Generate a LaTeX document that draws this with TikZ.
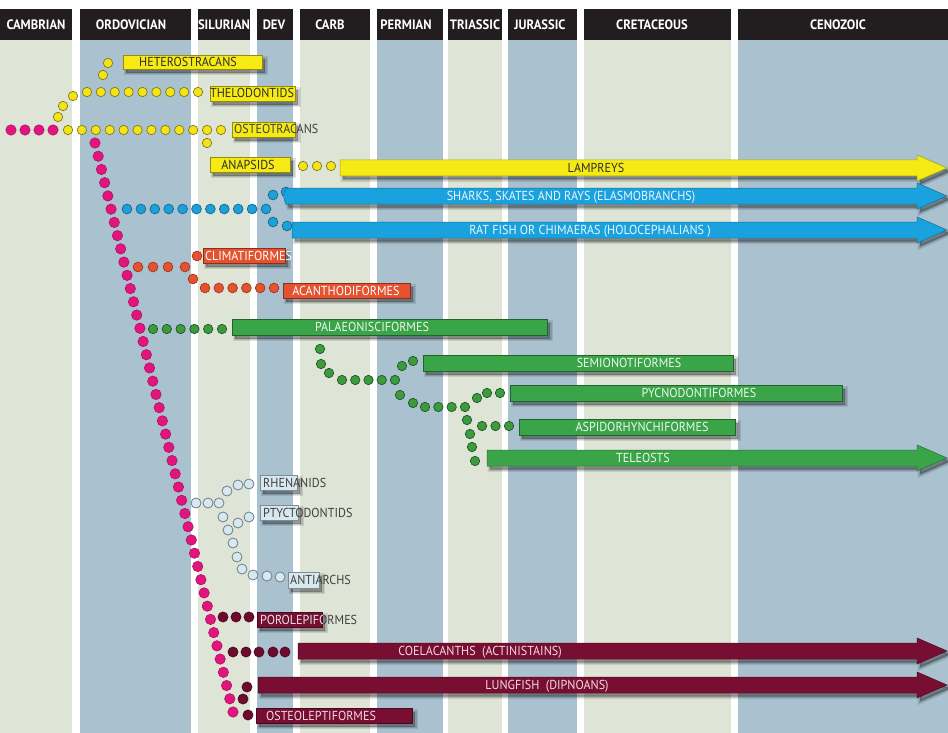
\documentclass[tikz,border=0pt]{standalone}
\usepackage{fontspec}
\setmainfont{PT Sans}
\newfontfamily\lblfont{PT Sans}[FakeStretch=0.93]

% period bands and header
\definecolor{hdrblack}{HTML}{221E1F}
\definecolor{bandgreen}{HTML}{DEE4D6}
\definecolor{bandblue}{HTML}{AAC1CF}
% lineages
\definecolor{yfill}{HTML}{F5EA14}
\definecolor{yline}{HTML}{77701A}
\definecolor{ydotfill}{HTML}{F3E417}
\definecolor{ydotline}{HTML}{857A1C}
\definecolor{pinkfill}{HTML}{E2157F}
\definecolor{pinkline}{HTML}{B0105F}
\definecolor{bluefill}{HTML}{1AA2DF}
\definecolor{blueline}{HTML}{157AA8}
\definecolor{bdotfill}{HTML}{1D9FD8}
\definecolor{bdotline}{HTML}{15688F}
\definecolor{orangefill}{HTML}{E5522F}
\definecolor{orangeline}{HTML}{A43A20}
\definecolor{greenfill}{HTML}{3AA548}
\definecolor{greenline}{HTML}{236B2C}
\definecolor{gdotfill}{HTML}{3D9A3F}
\definecolor{gdotline}{HTML}{1F5A22}
\definecolor{placofill}{HTML}{D8E8F1}
\definecolor{placoline}{HTML}{6D7C86}
\definecolor{maroonfill}{HTML}{780E31}
\definecolor{maroonline}{HTML}{4D0820}
\definecolor{mdotfill}{HTML}{6C0B2B}
\definecolor{darktext}{HTML}{2E2E2E}
\definecolor{greytext}{HTML}{404040}
\definecolor{palepink}{HTML}{F3DBE2}
\definecolor{paleblue}{HTML}{EAF5FB}
\definecolor{palegreen}{HTML}{EEF7EE}

\tikzset{
  band/.style={fill=#1, draw=none},
  periodbox/.style={fill=hdrblack, draw=none},
  periodtext/.style={text=white, font=\lblfont\bfseries\fontsize{13.6}{13.6}\selectfont,
    inner sep=0pt, text height=9.6pt, text depth=0pt},
  % soft shadow: a few stacked translucent layers, down and to the right
  softshadow/.style={
    preaction={fill=black, draw=black, opacity=0.10, line width=5pt,
      transform canvas={shift={(3pt,-3.5pt)}}},
    preaction={fill=black, draw=black, opacity=0.12, line width=2.5pt,
      transform canvas={shift={(3pt,-3.5pt)}}},
    preaction={fill=black, draw=none, opacity=0.14,
      transform canvas={shift={(3pt,-3.5pt)}}}},
  tagbox/.style={draw=#1!60!black, line width=0.6pt, fill=#1, softshadow,
    inner sep=0pt},
  tagtext/.style={font=\lblfont\fontsize{13}{13}\selectfont, inner sep=0pt,
    text height=9pt, text depth=0pt, text=#1},
  fatarrow/.style={fill=#1, draw=#1!70!black, line width=0.5pt, softshadow},
  ydot/.style={fill=ydotfill, draw=ydotline, line width=0.7pt},
  pdot/.style={fill=pinkfill, draw=pinkline, line width=0.6pt},
  bdot/.style={fill=bdotfill, draw=bdotline, line width=0.7pt},
  odot/.style={fill=orangefill, draw=orangeline, line width=0.7pt},
  gdot/.style={fill=gdotfill, draw=gdotline, line width=0.7pt},
  cdot/.style={fill=placofill, draw=placoline, line width=0.8pt},
  mdot/.style={fill=mdotfill, draw=maroonline, line width=0.6pt},
}

% a labelled rectangle: name, colour, x0, y0, x1, y1
\newcommand\tagrect[6]{%
  \node[tagbox=#2, minimum width={#5-#3}, minimum height={#6-#4},
        anchor=north west] (#1) at (#3,#4) {};}

% a row of evenly spaced dots: style, x0, x1, count-1, y, radius
\newcommand\dotrow[6]{%
  \foreach \i in {0,...,#4} {
    \pgfmathsetmacro\xx{#2+\i*((#3-#2)/#4)}
    \path[#1] (\xx,#5) circle[radius=#6];
  }}

\begin{document}
\begin{tikzpicture}[x=1pt,y=-1pt]
\useasboundingbox (0,0) rectangle (948,733);
\fill[white] (0,0) rectangle (948,733);

% geological periods
\foreach \a/\b/\c/\t/\tx in {0/72/bandgreen/CAMBRIAN/36,
    80/191/bandblue/ORDOVICIAN/131,
    198/250/bandgreen/SILURIAN/224,
    257/293/bandblue/DEV/274,
    300/370/bandgreen/CARB/330,
    377/443/bandblue/PERMIAN/406,
    448/502/bandgreen/TRIASSIC/475,
    508/577/bandblue/JURASSIC/540,
    584/731/bandgreen/CRETACEOUS/652,
    738/948/bandblue/CENOZOIC/838} {
  \fill[band=\c] (\a,40) rectangle (\b,733);
  \fill[periodbox] (\a,9) rectangle (\b,40);
  \node[periodtext] (hdr-\t) at (\tx,24.5) {\t};
}

% ---- dotted lineages ----
% jawless fishes
\dotrow{ydot}{68}{221}{11}{130}{4.7}
\dotrow{ydot}{87}{198}{8}{92}{4.7}
\foreach \x/\y in {58/117, 63/106, 73/96, 103/75, 108/63, 207/143,
                   303/166, 317/166, 331/166}
  \path[ydot] (\x,\y) circle[radius=4.7];

% stem line
\dotrow{pdot}{11}{53}{3}{130}{5.2}
\foreach \i in {0,...,43} {
  \pgfmathsetmacro\xx{95+\i*3.2093}
  \pgfmathsetmacro\yy{143+\i*13.2326}
  \path[pdot] (\xx,\yy) circle[radius=5.2];
}

% cartilaginous fishes
\dotrow{bdot}{127}{266}{10}{209}{4.9}
\foreach \x/\y in {273/195, 286/192, 273/222, 287/226}
  \path[bdot] (\x,\y) circle[radius=4.9];

% acanthodians
\foreach \x/\y in {138/267, 153/267, 168/267, 185/267, 197/256, 193/279}
  \path[odot] (\x,\y) circle[radius=4.9];
\dotrow{odot}{205}{274}{5}{288}{4.9}

% ray-finned fishes
\dotrow{gdot}{153}{222}{5}{329}{4.7}
\foreach \x/\y in {320/349, 321/364, 329/373, 402/366, 413/361,
                   400/395, 413/403, 477/398, 487/393, 500/393,
                   467/420, 470/434, 472/447, 475/461}
  \path[gdot] (\x,\y) circle[radius=4.7];
\dotrow{gdot}{342}{395}{4}{380}{4.7}
\dotrow{gdot}{425}{465}{3}{407}{4.7}
\dotrow{gdot}{482}{509}{2}{426}{4.7}

% placoderms
\foreach \x/\y in {196/503, 208/503, 219/503, 227/491, 238/485, 249/484,
                   223/517, 238/523, 249/517, 228/530, 233/543, 237/557,
                   242/569, 253/575, 267/576, 280/577}
  \path[cdot] (\x,\y) circle[radius=5];

% lobe-finned fishes
\foreach \x/\y in {223/617, 236/617, 249/617, 233/652, 246/652, 259/652,
                   273/652, 285/652, 247/687, 243/699, 248/715}
  \path[mdot] (\x,\y) circle[radius=5.1];

% ---- labelled boxes ----
\tagrect{heterostracans}{yfill}{123}{55}{262}{69}
\tagrect{thelodontids}{yfill}{210}{86}{295}{101}
\tagrect{osteotracans}{yfill}{232}{122}{295}{137}
\tagrect{anapsids}{yfill}{210}{157}{290}{172}
\tagrect{climatiformes}{orangefill}{203}{248}{285}{263}
\tagrect{acanthodiformes}{orangefill}{283}{283}{410}{298}
\tagrect{palaeonisciformes}{greenfill}{232}{319}{547}{335}
\tagrect{semionotiformes}{greenfill}{423}{355}{733}{371}
\tagrect{pycnodontiformes}{greenfill}{510}{385}{842}{401}
\tagrect{aspidorhynchiformes}{greenfill}{519}{419}{735}{435}
\tagrect{rhenanids}{placofill}{260}{475}{297}{490}
\tagrect{ptyctodontids}{placofill}{260}{505}{298}{520}
\tagrect{antiarchs}{placofill}{288}{572}{319}{588}
\tagrect{porolepiformes}{maroonfill}{257}{612}{322}{627}
\tagrect{osteoleptiformes}{maroonfill}{256}{708}{412}{723}

% ---- lineages that survive to the present ----
\path[fatarrow=yfill] (340,160) -- (917,160) -- (917,155) -- (947,168)
  -- (917,181) -- (917,176) -- (340,176) -- cycle;
\path[fatarrow=bluefill] (286,188) -- (917,188) -- (917,183) -- (947,196)
  -- (917,209) -- (917,204) -- (286,204) [rounded corners=3pt] -- (283,196) -- cycle;
\path[fatarrow=bluefill] (292,222) -- (917,222) -- (917,217) -- (947,230)
  -- (917,243) -- (917,238) -- (292,238) -- cycle;
\path[fatarrow=greenfill] (487,450) -- (917,450) -- (917,445) -- (947,458)
  -- (917,471) -- (917,466) -- (487,466) -- cycle;
\path[fatarrow=maroonfill] (298,643) -- (917,643) -- (917,638) -- (947,651)
  -- (917,664) -- (917,659) -- (298,659) -- cycle;
\path[fatarrow=maroonfill] (258,677) -- (917,677) -- (917,672) -- (947,685)
  -- (917,698) -- (917,693) -- (258,693) -- cycle;

% ---- texts ----
\node[tagtext=darktext] (heterostracans-t) at (188,62) {HETEROSTRACANS};
\node[tagtext=darktext] (thelodontids-t) at (252,93.5) {THELODONTIDS};
\node[tagtext=greytext, anchor=west] (osteotracans-t) at (234,129.5) {OSTEOTRACANS};
\node[tagtext=darktext] (anapsids-t) at (248,164.5) {ANAPSIDS};
\node[tagtext=darktext] (lampreys-t) at (596,168) {LAMPREYS};
\node[tagtext=paleblue] (sharks-t) at (571,196) {SHARKS, SKATES AND RAYS (ELASMOBRANCHS)};
\node[tagtext=paleblue] (ratfish-t) at (590,230) {RAT FISH OR CHIMAERAS (HOLOCEPHALIANS )};
\node[tagtext=white, anchor=west] (climatiformes-t) at (205,255.5) {CLIMATIFORMES};
\node[tagtext=white] (acanthodiformes-t) at (346,290.5) {ACANTHODIFORMES};
\node[tagtext=palegreen] (palaeonisciformes-t) at (372,327) {PALAEONISCIFORMES};
\node[tagtext=palegreen] (semionotiformes-t) at (629,363) {SEMIONOTIFORMES};
\node[tagtext=palegreen] (pycnodontiformes-t) at (699,393) {PYCNODONTIFORMES};
\node[tagtext=palegreen] (aspidorhynchiformes-t) at (642,427) {ASPIDORHYNCHIFORMES};
\node[tagtext=palegreen] (teleosts-t) at (643,458) {TELEOSTS};
\node[tagtext=greytext, anchor=west] (rhenanids-t) at (263,482.5) {RHENANIDS};
\node[tagtext=greytext, anchor=west] (ptyctodontids-t) at (263,512.5) {PTYCTODONTIDS};
\node[tagtext=greytext, anchor=west] (antiarchs-t) at (290,580) {ANTIARCHS};
\node[tagtext=greytext, anchor=west] (porolepiformes-t) at (260,619.5) {POROLEPIFORMES};
\begin{scope}
  \clip (257,612) rectangle (322,627);
  \node[tagtext=palepink, anchor=west] (porolepiformes-tin) at (260,619.5) {POROLEPIFORMES};
\end{scope}
\node[tagtext=palepink] (coelacanths-t) at (480,651) {COELACANTHS\ \ (ACTINISTAINS)};
\node[tagtext=palepink] (lungfish-t) at (547,685) {LUNGFISH\ \ (DIPNOANS)};
\node[tagtext=palepink] (osteoleptiformes-t) at (321,715.5) {OSTEOLEPTIFORMES};
\end{tikzpicture}
\end{document}
